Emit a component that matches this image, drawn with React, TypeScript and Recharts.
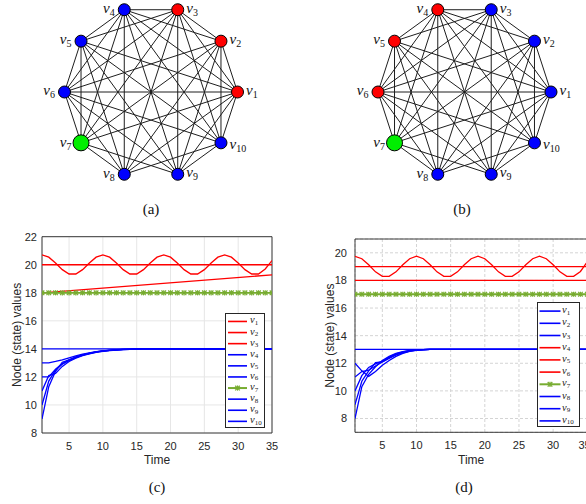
import React from 'react';
import {
  ScatterChart, Scatter, XAxis, YAxis, LineChart, Line, CartesianGrid, Legend, ReferenceArea,
} from 'recharts';

// ---------------- Graph (a), (b) data ----------------
const NODE_IDS = [1, 2, 3, 4, 5, 6, 7, 8, 9, 10];
const NODE_ANGLES_DEG = [0, 36, 72, 108, 144, 180, 216, 252, 288, 324];
const NODE_COLORS_A = ['red', 'red', 'red', 'blue', 'blue', 'blue', 'green', 'blue', 'blue', 'blue'];
const NODE_COLORS_B = ['blue', 'blue', 'blue', 'red', 'red', 'red', 'green', 'blue', 'blue', 'blue'];
const MISSING_EDGES = [[2, 5], [7, 10], [8, 9]];

// ---------------- Panel (c) data ----------------
const TIME = [1, 2, 3, 4, 5, 6, 7, 8, 9, 10, 11, 12, 13, 14, 15, 16, 17, 18, 19, 20, 21, 22, 23, 24, 25, 26, 27, 28, 29, 30, 31, 32, 33, 34, 35];
const C_X_TICKS = [5, 10, 15, 20, 25, 30, 35];
const C_Y_TICKS = [8, 10, 12, 14, 16, 18, 20, 22];
const C_V1_LEVEL = 20;
const C_V2 = [20.7, 20.54, 20.12, 19.65, 19.34, 19.34, 19.65, 20.12, 20.54,
  20.7, 20.54, 20.12, 19.65, 19.34, 19.34, 19.65, 20.12, 20.54,
  20.7, 20.54, 20.12, 19.65, 19.34, 19.34, 19.65, 20.12, 20.54,
  20.7, 20.54, 20.12, 19.65, 19.34, 19.34, 19.7, 20.3];
const C_V3_T = [1, 35];
const C_V3 = [18.0, 19.28];
const C_V4_LEVEL = 14;
const C_V7_LEVEL = 18;
const C_CONV_T = [1, 2, 3, 4, 5, 6, 7, 8, 9, 10, 11, 12, 13, 14, 15, 16, 35];
const C_V5 = [13.0, 13.0, 13.1, 13.22, 13.36, 13.5, 13.62, 13.72, 13.8, 13.86, 13.91, 13.94, 13.96, 13.98, 13.99, 14.0, 14.0];
const C_V6 = [12.0, 12.0, 12.55, 12.95, 13.22, 13.43, 13.58, 13.7, 13.79, 13.85, 13.9, 13.93, 13.96, 13.97, 13.99, 14.0, 14.0];
const C_V8 = [11.0, 12.1, 12.25, 12.75, 13.1, 13.33, 13.52, 13.65, 13.75, 13.83, 13.88, 13.92, 13.95, 13.97, 13.98, 14.0, 14.0];
const C_V9 = [10.0, 11.7, 12.5, 12.9, 13.15, 13.38, 13.55, 13.67, 13.77, 13.84, 13.89, 13.93, 13.95, 13.97, 13.99, 14.0, 14.0];
const C_V10 = [9.0, 11.3, 12.4, 13.05, 13.22, 13.4, 13.56, 13.68, 13.78, 13.85, 13.9, 13.93, 13.96, 13.97, 13.99, 14.0, 14.0];

// ---------------- Panel (d) data ----------------
const D_X_TICKS = [5, 10, 15, 20, 25, 30, 35];
const D_Y_TICKS = [8, 10, 12, 14, 16, 18, 20];
const D_V1_LEVEL = 13;
const D_V4 = [19.75, 19.57, 19.13, 18.62, 18.3, 18.3, 18.62, 19.13, 19.57,
  19.75, 19.57, 19.13, 18.62, 18.3, 18.3, 18.62, 19.13, 19.57,
  19.75, 19.57, 19.13, 18.62, 18.3, 18.3, 18.62, 19.13, 19.57,
  19.75, 19.57, 19.13, 18.62, 18.3, 18.3, 18.65, 19.35];
const D_V5_LEVEL = 19;
const D_V6_LEVEL = 18;
const D_V7_LEVEL = 17;
const D_CONV_T = [1, 2, 3, 4, 5, 6, 7, 8, 9, 10, 11, 12, 35];
const D_V2 = [12, 11.45, 11.05, 11.4, 11.85, 12.2, 12.5, 12.72, 12.86, 12.94, 12.98, 13, 13];
const D_V3 = [11, 11.4, 11.5, 11.8, 12.1, 12.4, 12.62, 12.78, 12.9, 12.96, 12.99, 13, 13];
const D_V8 = [10, 11.1, 11.7, 11.95, 12.15, 12.45, 12.68, 12.82, 12.92, 12.97, 12.99, 13, 13];
const D_V9 = [9, 10.7, 11.45, 12.05, 12.1, 12.35, 12.6, 12.76, 12.88, 12.95, 12.99, 13, 13];
const D_V10 = [8, 10.3, 11.2, 11.75, 12.2, 12.5, 12.72, 12.85, 12.93, 12.97, 12.99, 13, 13];

// ---------------- styles ----------------
const NODE_FILL: Record<string, string> = { red: '#ff0000', blue: '#0000ff', green: '#00ee00' };
const RED = '#ff0000';
const BLUE = '#0000ff';
const GREEN = '#77ac30';
const AXIS_TEXT = '#262626';
const LABEL_SIDE = ['R', 'R', 'R', 'L', 'L', 'L', 'L', 'L', 'R', 'R'];
const LABEL_DY = [3, 3, 3, 3, 3, 3, 4, 4, 3, 6];
const BIG_NODE = 7;

const pts = (ts: number[], vs: number[]) => ts.map((t, i) => ({ t, v: vs[i] }));
const level = (ts: number[], v: number) => ts.map((t) => ({ t, v }));

const EDGES: number[][] = [];
NODE_IDS.forEach((a) => NODE_IDS.forEach((b) => {
  if (a < b && !MISSING_EDGES.some(([p, q]) => p === a && q === b)) EDGES.push([a, b]);
}));

const renderNode = (props: any) => {
  const { cx, cy, payload } = props;
  const r = payload.id === BIG_NODE ? 8 : 6;
  const i = payload.id - 1;
  const right = LABEL_SIDE[i] === 'R';
  const tx = right ? cx + 8.5 : cx - 9.5;
  return (
    <g>
      <circle cx={cx} cy={cy} r={r} fill={NODE_FILL[payload.color]} stroke="#000" strokeWidth={1} />
      <text x={tx} y={cy + LABEL_DY[i]} textAnchor={right ? 'start' : 'end'}
        fontFamily="Liberation Serif" fontStyle="italic" fontSize={15} fill="#111">
        v<tspan fontSize={10} fontStyle="normal" dy={3}>{payload.id}</tspan>
      </text>
    </g>
  );
};

const noShape = () => <g />;

function GraphPanel({ colors, left, cx }: { colors: string[]; left: number; cx: number }) {
  const W = 293, H = 230, R = 86.5, CY = 92;
  const nodes = NODE_IDS.map((id, i) => {
    const a = (NODE_ANGLES_DEG[i] * Math.PI) / 180;
    return { id, x: Math.cos(a), y: Math.sin(a), color: colors[i] };
  });
  return (
    <div style={{ position: 'absolute', left, top: 0 }}>
      <ScatterChart width={W} height={H} margin={{ top: 0, right: 0, bottom: 0, left: 0 }}>
        <XAxis type="number" dataKey="x" domain={[-cx / R, (W - cx) / R]} hide allowDataOverflow />
        <YAxis type="number" dataKey="y" domain={[-(H - CY) / R, CY / R]} hide allowDataOverflow />
        {EDGES.map(([a, b]) => (
          <Scatter key={`e${a}-${b}`} data={[nodes[a - 1], nodes[b - 1]]}
            line={{ stroke: '#1e1e1e', strokeWidth: 1 }} shape={noShape}
            isAnimationActive={false} legendType="none" />
        ))}
        <Scatter data={nodes} shape={renderNode} isAnimationActive={false} legendType="none" />
      </ScatterChart>
    </div>
  );
}

const Star = ({ x, y, c }: { x: number; y: number; c: string }) => (
  <g stroke={c} strokeWidth={1.2}>
    <line x1={x - 2.3} y1={y - 2.3} x2={x + 2.3} y2={y + 2.3} />
    <line x1={x - 2.3} y1={y + 2.3} x2={x + 2.3} y2={y - 2.3} />
    <line x1={x - 2.6} y1={y} x2={x + 2.6} y2={y} />
    <line x1={x} y1={y - 2.6} x2={x} y2={y + 2.6} />
  </g>
);

const renderStar = (p: any) => <Star key={`s${p.index}`} x={p.cx} y={p.cy} c={GREEN} />;

type Series = { id: number; color: string; data: { t: number; v: number }[]; marker?: boolean };

const C_SERIES: Series[] = [
  { id: 1, color: RED, data: level([1, 35], C_V1_LEVEL) },
  { id: 2, color: RED, data: pts(TIME, C_V2) },
  { id: 3, color: RED, data: pts(C_V3_T, C_V3) },
  { id: 4, color: BLUE, data: level([1, 35], C_V4_LEVEL) },
  { id: 5, color: BLUE, data: pts(C_CONV_T, C_V5) },
  { id: 6, color: BLUE, data: pts(C_CONV_T, C_V6) },
  { id: 7, color: GREEN, data: level(TIME, C_V7_LEVEL), marker: true },
  { id: 8, color: BLUE, data: pts(C_CONV_T, C_V8) },
  { id: 9, color: BLUE, data: pts(C_CONV_T, C_V9) },
  { id: 10, color: BLUE, data: pts(C_CONV_T, C_V10) },
];

const D_SERIES: Series[] = [
  { id: 1, color: BLUE, data: level([1, 35], D_V1_LEVEL) },
  { id: 2, color: BLUE, data: pts(D_CONV_T, D_V2) },
  { id: 3, color: BLUE, data: pts(D_CONV_T, D_V3) },
  { id: 4, color: RED, data: pts(TIME, D_V4) },
  { id: 5, color: RED, data: level([1, 35], D_V5_LEVEL) },
  { id: 6, color: RED, data: level([1, 35], D_V6_LEVEL) },
  { id: 7, color: GREEN, data: level(TIME, D_V7_LEVEL), marker: true },
  { id: 8, color: BLUE, data: pts(D_CONV_T, D_V8) },
  { id: 9, color: BLUE, data: pts(D_CONV_T, D_V9) },
  { id: 10, color: BLUE, data: pts(D_CONV_T, D_V10) },
];

type Box = { left: number; top: number; w: number; h: number; rowH: number; padTop: number; s0: number; s1: number; tx: number };

const makeLegend = (series: Series[], box: Box) => () => (
  <div style={{ width: box.w, height: box.h, border: `1px solid ${AXIS_TEXT}`, background: '#fff', boxSizing: 'border-box' }}>
    <svg width={box.w - 2} height={box.h - 2} style={{ display: 'block' }}>
      {series.map((s, i) => {
        const y = box.padTop + box.rowH * (i + 0.5);
        return (
          <g key={s.id}>
            <line x1={box.s0} x2={box.s1} y1={y} y2={y} stroke={s.color} strokeWidth={s.marker ? 2 : 1.6} />
            {s.marker ? <Star x={(box.s0 + box.s1) / 2} y={y} c={GREEN} /> : null}
            <text x={box.tx} y={y + 2} fontFamily="Liberation Serif" fontStyle="italic" fontSize={10.5} fill="#222">
              v<tspan fontSize={7} fontStyle="normal" dy={1.5}>{s.id}</tspan>
            </text>
          </g>
        );
      })}
    </svg>
  </div>
);

type PanelCfg = {
  left: number; width: number; series: Series[]; xTicks: number[]; yTicks: number[];
  yDomain: number[]; margin: any; dashed: boolean; box: Box; yLabelOffset: number;
  yTickMargin: number; timeOffset: number;
};

function StatePanel({ cfg }: { cfg: PanelCfg }) {
  return (
    <div style={{ position: 'absolute', left: cfg.left, top: 225 }}>
      <LineChart width={cfg.width} height={250} margin={cfg.margin}>
        <CartesianGrid stroke={cfg.dashed ? '#d4d4d4' : '#e6e6e6'} strokeDasharray={cfg.dashed ? '3 2' : undefined} />
        <XAxis type="number" dataKey="t" domain={[1, 35]} ticks={cfg.xTicks} allowDataOverflow
          axisLine={false} tickLine={false} tickSize={0} tickMargin={9} height={40}
          tick={{ fontSize: 11, fill: AXIS_TEXT }}
          label={{ value: 'Time', position: 'insideBottom', offset: cfg.timeOffset, fontSize: 12, fill: AXIS_TEXT }} />
        <YAxis type="number" domain={cfg.yDomain} ticks={cfg.yTicks} allowDataOverflow width={30}
          axisLine={false} tickLine={false} tickSize={0} tickMargin={cfg.yTickMargin}
          tick={{ fontSize: 11, fill: AXIS_TEXT }}
          label={{ value: 'Node (state) values', angle: -90, position: 'insideLeft', offset: cfg.yLabelOffset, fontSize: 12, fill: AXIS_TEXT, style: { textAnchor: 'middle' } }} />
        <ReferenceArea x1={1} x2={35} y1={cfg.yDomain[0]} y2={cfg.yDomain[1]} fill="none" fillOpacity={0}
          stroke={AXIS_TEXT} strokeWidth={0.9} ifOverflow="visible" />
        {cfg.series.map((s) => (
          <Line key={s.id} data={s.data} dataKey="v" name={`v${s.id}`} type="linear" stroke={s.color}
            strokeWidth={s.marker ? 1.8 : 1.3} dot={s.marker ? renderStar : false}
            activeDot={false} isAnimationActive={false} />
        ))}
        <Legend layout="vertical" align="center" verticalAlign="middle" content={makeLegend(cfg.series, cfg.box)}
          wrapperStyle={{ left: cfg.box.left, top: cfg.box.top, width: cfg.box.w, height: cfg.box.h }} />
      </LineChart>
    </div>
  );
}

const C_CFG: PanelCfg = {
  left: 0, width: 300, series: C_SERIES, xTicks: C_X_TICKS, yTicks: C_Y_TICKS, yDomain: [8, 22],
  margin: { top: 11.7, right: 28, bottom: 2, left: 12 }, dashed: false,
  box: { left: 225, top: 88.3, w: 40, h: 114.5, rowH: 11.1, padTop: 1.9, s0: 2, s1: 21, tx: 24 },
  yLabelOffset: 5, yTickMargin: 5, timeOffset: 9,
};

const D_CFG: PanelCfg = {
  left: 300, width: 290, series: D_SERIES, xTicks: D_X_TICKS, yTicks: D_Y_TICKS, yDomain: [7, 21],
  margin: { top: 14, right: 2.7, bottom: 2.7, left: 25 }, dashed: true,
  box: { left: 237, top: 77, w: 43, h: 125, rowH: 12.2, padTop: 2, s0: 1.5, s1: 22.5, tx: 24 },
  yLabelOffset: 4.3, yTickMargin: 8, timeOffset: 8.3,
};

const Caption = ({ text, cx, cy }: { text: string; cx: number; cy: number }) => (
  <div style={{ position: 'absolute', left: cx - 30, top: cy - 10, width: 60, height: 20, lineHeight: '20px', textAlign: 'center', fontFamily: 'Liberation Serif', fontSize: 15, color: '#111' }}>{text}</div>
);

export default function App() {
  return (
    <div style={{ position: 'absolute', left: 0, top: 0, width: 586, height: 504, overflow: 'hidden', background: '#fff', fontFamily: '"Liberation Sans", Arial, sans-serif' }}>
      <GraphPanel colors={NODE_COLORS_A} left={0} cx={151} />
      <GraphPanel colors={NODE_COLORS_B} left={293} cx={171.5} />
      <StatePanel cfg={C_CFG} />
      <StatePanel cfg={D_CFG} />
      <Caption text="(a)" cx={151} cy={209} />
      <Caption text="(b)" cx={462} cy={209} />
      <Caption text="(c)" cx={157} cy={487} />
      <Caption text="(d)" cx={464} cy={487} />
    </div>
  );
}
